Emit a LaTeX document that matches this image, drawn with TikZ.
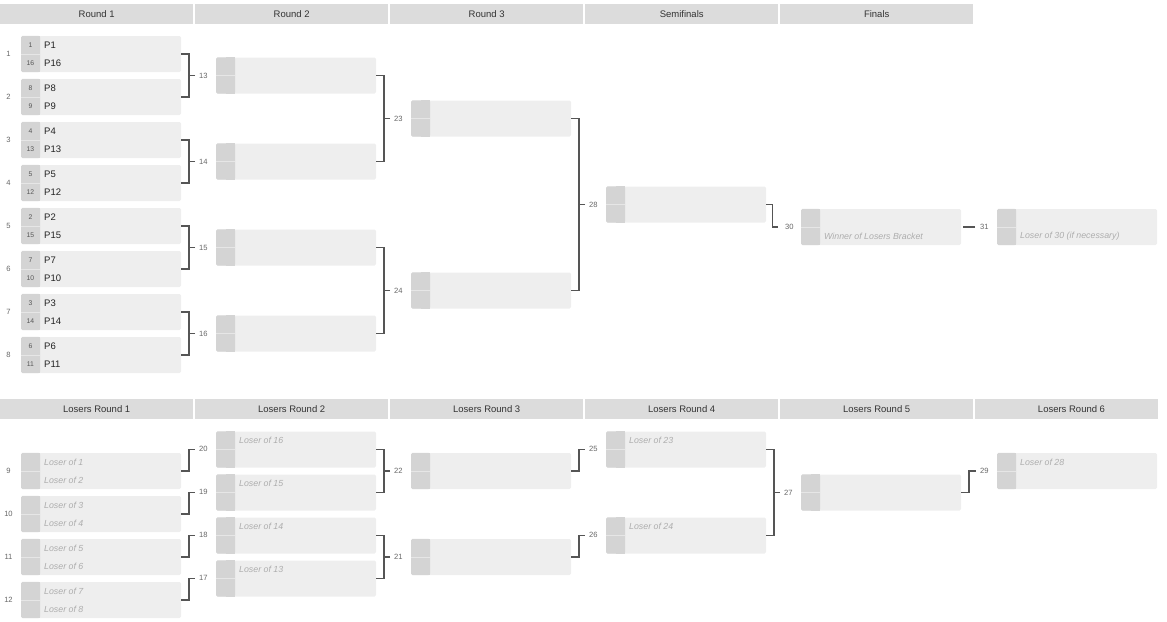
\documentclass[tikz,border=0pt]{standalone}
\usepackage{fontspec}
\setmainfont{Liberation Sans}
\usetikzlibrary{calc}
\definecolor{hdrfill}{HTML}{DCDCDC}
\definecolor{hdrtext}{HTML}{333333}
\definecolor{boxfill}{HTML}{EEEEEE}
\definecolor{seedfill}{HTML}{D4D4D4}
\definecolor{seedline}{HTML}{E6E6E6}
\definecolor{seedtext}{HTML}{555555}
\definecolor{nametext}{HTML}{222222}
\definecolor{ghosttext}{HTML}{ADADAD}
\definecolor{bracketc}{HTML}{555555}
\definecolor{labtext}{HTML}{666666}
\tikzset{
  hdrbox/.style={fill=hdrfill, text=hdrtext, minimum height=20pt, inner sep=0pt,
    font=\fontsize{9.5}{11}\selectfont, anchor=north west},
  mbox/.style={fill=boxfill, minimum width=160pt, minimum height=36pt, inner sep=0pt,
    rounded corners=1.5pt, anchor=west},
  seedtx/.style={text=seedtext, font=\fontsize{6.8}{8}\selectfont, inner sep=0pt},
  nametx/.style={text=nametext, font=\fontsize{9.5}{11}\selectfont, inner sep=0pt, anchor=west},
  ghosttx/.style={text=ghosttext, font=\fontsize{8.8}{10}\selectfont\itshape, inner sep=0pt, anchor=west},
  labtx/.style={text=labtext, font=\fontsize{7.6}{9}\selectfont, inner sep=0pt, anchor=west},
  numtx/.style={text=labtext, font=\fontsize{7.6}{9}\selectfont, inner sep=0pt},
  br/.style={draw=bracketc, line width=1.3pt, line cap=butt, line join=miter},
}
% match box: name, left x, centre y, seed1, text1, style1, seed2, text2, style2
\newcommand{\bmatch}[9]{%
  \node[mbox] (#1) at (#2,#3) {};
  \fill[seedfill, rounded corners=1.5pt] (#1.north west) rectangle ($(#1.south west)+(19,0)$);
  \fill[seedfill] ($(#1.north west)+(10,0)$) rectangle ($(#1.south west)+(19,0)$);
  \draw[seedline, line width=0.8pt] (#1.west) -- ++(19,0);
  \node[seedtx] (#1s1) at ($(#1.west)+(9.5,-9)$) {#4};
  \node[seedtx] (#1s2) at ($(#1.west)+(9.5,9)$) {#7};
  \node[#6] (#1t1) at ($(#1.west)+(23,-9)$) {#5};
  \node[#9] (#1t2) at ($(#1.west)+(23,9)$) {#8};
}
\begin{document}
\begin{tikzpicture}[x=1pt,y=-1pt]
\useasboundingbox (0,0) rectangle (1167,621);
% headers
\node[hdrbox, minimum width=193pt] (h1) at (0,4) {Round 1};
\node[hdrbox, minimum width=193pt] (h2) at (195,4) {Round 2};
\node[hdrbox, minimum width=193pt] (h3) at (390,4) {Round 3};
\node[hdrbox, minimum width=193pt] (h4) at (585,4) {Semifinals};
\node[hdrbox, minimum width=193pt] (h5) at (780,4) {Finals};
\node[hdrbox, minimum width=193pt] (lh1) at (0,399) {Losers Round 1};
\node[hdrbox, minimum width=193pt] (lh2) at (195,399) {Losers Round 2};
\node[hdrbox, minimum width=193pt] (lh3) at (390,399) {Losers Round 3};
\node[hdrbox, minimum width=193pt] (lh4) at (585,399) {Losers Round 4};
\node[hdrbox, minimum width=193pt] (lh5) at (780,399) {Losers Round 5};
\fill[hdrfill] (975,399) rectangle (1158,419);
\node[text=hdrtext, font=\fontsize{9.5}{11}\selectfont, inner sep=0pt] (lh6) at (1071.5,409) {Losers Round 6};

% ---------- winners bracket ----------
\bmatch{m1}{21}{54}{1}{P1}{nametx}{16}{P16}{nametx}
\bmatch{m2}{21}{97}{8}{P8}{nametx}{9}{P9}{nametx}
\bmatch{m3}{21}{140}{4}{P4}{nametx}{13}{P13}{nametx}
\bmatch{m4}{21}{183}{5}{P5}{nametx}{12}{P12}{nametx}
\bmatch{m5}{21}{226}{2}{P2}{nametx}{15}{P15}{nametx}
\bmatch{m6}{21}{269}{7}{P7}{nametx}{10}{P10}{nametx}
\bmatch{m7}{21}{312}{3}{P3}{nametx}{14}{P14}{nametx}
\bmatch{m8}{21}{355}{6}{P6}{nametx}{11}{P11}{nametx}
\foreach \i/\y in {1/54,2/97,3/140,4/183,5/226,6/269,7/312,8/355}
  \node[numtx] (n\i) at (8.5,\y) {\i};

\bmatch{m13}{216}{75.5}{}{}{nametx}{}{}{nametx}
\bmatch{m14}{216}{161.5}{}{}{nametx}{}{}{nametx}
\bmatch{m15}{216}{247.5}{}{}{nametx}{}{}{nametx}
\bmatch{m16}{216}{333.5}{}{}{nametx}{}{}{nametx}
\bmatch{m23}{411}{118.5}{}{}{nametx}{}{}{nametx}
\bmatch{m24}{411}{290.5}{}{}{nametx}{}{}{nametx}
\bmatch{m28}{606}{204.5}{}{}{nametx}{}{}{nametx}
\bmatch{m30}{801}{227}{}{}{ghosttx}{}{Winner of Losers Bracket}{ghosttx}
\bmatch{m31}{997}{227}{}{}{ghosttx}{}{Loser of 30 (if necessary)}{ghosttx}

% labels
\node[labtx] (l13) at (199,75.5) {13};
\node[labtx] (l14) at (199,161.5) {14};
\node[labtx] (l15) at (199,247.5) {15};
\node[labtx] (l16) at (199,333.5) {16};
\node[labtx] (l23) at (394,118.5) {23};
\node[labtx] (l24) at (394,290.5) {24};
\node[labtx] (l28) at (589,204.5) {28};
\node[labtx] (l30) at (785,227) {30};
\node[labtx] (l31) at (980,227) {31};

% brackets (two-feeder)
\foreach \a/\b/\l in {m1/m2/l13, m3/m4/l14, m5/m6/l15, m7/m8/l16,
                      m13/m14/l23, m15/m16/l24, m23/m24/l28}{
  \draw[br] (\a.east) -- ++(7.5,0) |- (\b.east);
  \draw[br] ($(\l.west)+(-4,0)$) -- ++(-6,0);
}
% single feeders
\draw[br] (m28.east) -- ++(6,0) |- ($(l30.west)+(-7,0)$);
\draw[br] ($(l31.west)+(-5,0)$) -- ++(-12,0);

% ---------- losers bracket ----------
\bmatch{m9}{21}{471}{}{Loser of 1}{ghosttx}{}{Loser of 2}{ghosttx}
\bmatch{m10}{21}{514}{}{Loser of 3}{ghosttx}{}{Loser of 4}{ghosttx}
\bmatch{m11}{21}{557}{}{Loser of 5}{ghosttx}{}{Loser of 6}{ghosttx}
\bmatch{m12}{21}{600}{}{Loser of 7}{ghosttx}{}{Loser of 8}{ghosttx}
\foreach \i/\y in {9/471,10/514,11/557,12/600}
  \node[numtx] (n\i) at (8.5,\y) {\i};

\bmatch{m20}{216}{449.5}{}{Loser of 16}{ghosttx}{}{}{ghosttx}
\bmatch{m19}{216}{492.5}{}{Loser of 15}{ghosttx}{}{}{ghosttx}
\bmatch{m18}{216}{535.5}{}{Loser of 14}{ghosttx}{}{}{ghosttx}
\bmatch{m17}{216}{578.5}{}{Loser of 13}{ghosttx}{}{}{ghosttx}
\bmatch{m22}{411}{471}{}{}{ghosttx}{}{}{ghosttx}
\bmatch{m21}{411}{557}{}{}{ghosttx}{}{}{ghosttx}
\bmatch{m25}{606}{449.5}{}{Loser of 23}{ghosttx}{}{}{ghosttx}
\bmatch{m26}{606}{535.5}{}{Loser of 24}{ghosttx}{}{}{ghosttx}
\bmatch{m27}{801}{492.5}{}{}{ghosttx}{}{}{ghosttx}
\bmatch{m29}{997}{471}{}{Loser of 28}{ghosttx}{}{}{ghosttx}

\node[labtx] (l20) at (199,449) {20};
\node[labtx] (l19) at (199,492) {19};
\node[labtx] (l18) at (199,535) {18};
\node[labtx] (l17) at (199,578) {17};
\node[labtx] (l22) at (394,471) {22};
\node[labtx] (l21) at (394,557) {21};
\node[labtx] (l25) at (589,449) {25};
\node[labtx] (l26) at (589,535) {26};
\node[labtx] (l27) at (784,492.5) {27};
\node[labtx] (l29) at (980,470.5) {29};

% single-feeder L connectors
\foreach \a/\b in {m9/m20, m10/m19, m11/m18, m12/m17, m22/m25, m21/m26, m27/m29}{
  \draw[br] (\a.east) -- ++(7.5,0) |- ($(\b.west)+(-21,0)$);
}
% two-feeder brackets
\foreach \a/\b/\l in {m20/m19/l22, m18/m17/l21, m25/m26/l27}{
  \draw[br] (\a.east) -- ++(7.5,0) |- (\b.east);
  \draw[br] ($(\l.west)+(-4,0)$) -- ++(-6,0);
}
\end{tikzpicture}
\end{document}
